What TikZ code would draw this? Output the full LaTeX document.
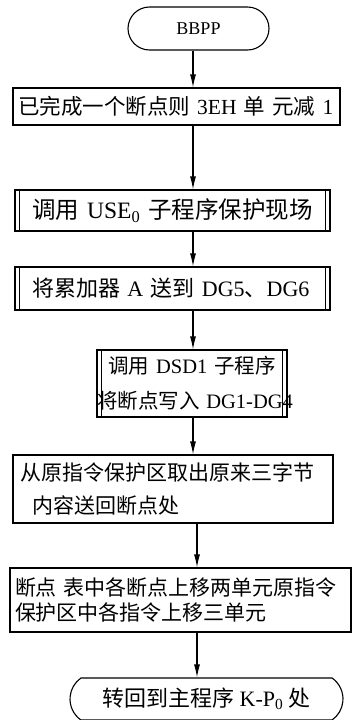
\documentclass[tikz,border=0pt]{standalone}
\usepackage{fontspec}
\setmainfont{Liberation Serif}
\newfontfamily\cjk{Noto Sans CJK SC}
\usetikzlibrary{arrows.meta,shapes.misc}
\newcommand\zh[1]{{\cjk #1}}
\begin{document}
\begin{tikzpicture}[x=1pt,y=-1pt,
  box/.style={draw,line width=1.1pt,rectangle,inner ysep=0pt},
  term/.style={draw,line width=1.1pt,rounded rectangle,inner sep=0pt},
  arr/.style={line width=1.1pt,-{Latex[length=13pt,width=6pt]}},
  inner/.style={line width=1.1pt}]
\useasboundingbox (0,0) rectangle (353,720);
\coordinate (sa) at (193,0);
\coordinate (sb) at (197,0);

\node[term,minimum width=141,minimum height=43,font=\fontsize{18}{22}\selectfont] (bbpp) at (198.5,28.5) {BBPP};

\node[box,minimum width=327,minimum height=37,inner xsep=5,text width=317,align=left,
  font=\fontsize{21.5}{26}\selectfont] (b1) at (176.5,106.5)
  {\mbox{\zh{已完成一个断点则} 3EH \zh{单 元减} 1}};

\node[box,minimum width=315,minimum height=41,inner xsep=0,text width=315,align=center,
  font=\fontsize{23.5}{27}\selectfont] (b2) at (172.5,210.5)
  {\mbox{\zh{调用} USE\textsubscript{0} \zh{子程序保护现场}}};

\node[box,minimum width=315,minimum height=43,inner xsep=17,text width=281,align=left,
  font=\fontsize{22}{26}\selectfont] (b3) at (172.5,288.5)
  {\mbox{\zh{将累加器} A \zh{送到} DG5\zh{、}DG6}};

\node[box,minimum width=190,minimum height=67,inner xsep=0,text width=190,align=center,
  font=\fontsize{20.5}{35}\selectfont] (b4) at (192,383.5)
  {\mbox{\zh{调用} DSD1 \zh{子程序}}\\\mbox{\zh{将断点写入} DG1-DG4}};

\node[box,minimum width=320,minimum height=68,inner xsep=7,text width=306,align=left,
  font=\fontsize{21}{33}\selectfont] (b5) at (173,489)
  {\mbox{\zh{从原指令保护区取出原来三字节}}\\\hspace*{12pt}\mbox{\zh{内容送回断点处}}};

\node[box,minimum width=341,minimum height=64,inner xsep=5,text width=331,align=left,
  font=\fontsize{21}{25}\selectfont] (b6) at (180.5,600)
  {\mbox{\zh{断点 表中各断点上移两单元原指令}}\\\mbox{\zh{保护区中各指令上移三单元}}};

\node[term,rounded rectangle arc length=110,minimum width=273,minimum height=42,
  font=\fontsize{22}{26}\selectfont] (end) at (206.5,699)
  {\zh{转回到主程序} K-P\textsubscript{0} \zh{处}};

% inner lines of subroutine boxes
\foreach \b in {b2,b3,b4}{
  \draw[inner] ([xshift=5pt]\b.north west) -- ([xshift=5pt]\b.south west);
  \draw[inner] ([xshift=-5pt]\b.north east) -- ([xshift=-5pt]\b.south east);
}

\draw[arr] (bbpp.south -| sa) -- (b1.north -| sa);
\draw[arr] (b1.south -| sa) -- (b2.north -| sa);
\draw[arr] (b2.south -| sa) -- (b3.north -| sa);
\draw[arr] (b3.south -| sa) -- (b4.north -| sa);
\draw[arr] (b4.south -| sa) -- (b5.north -| sa);
\draw[arr] (b5.south -| sb) -- (b6.north -| sb);
\draw[arr] (b6.south -| sb) -- (end.north -| sb);
\end{tikzpicture}
\end{document}
